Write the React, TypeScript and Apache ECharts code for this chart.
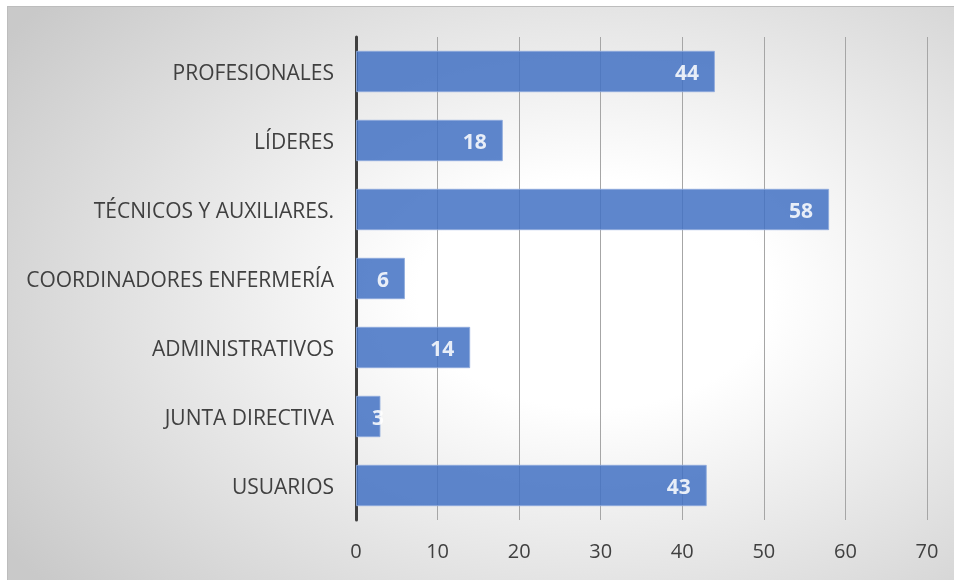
import React, { useEffect, useRef } from "react";
import * as echarts from "echarts";

const categories = [
  "PROFESIONALES",
  "LÍDERES",
  "TÉCNICOS Y AUXILIARES.",
  "COORDINADORES ENFERMERÍA",
  "ADMINISTRATIVOS",
  "JUNTA DIRECTIVA",
  "USUARIOS",
];
const values = [44, 18, 58, 6, 14, 3, 43];
const axisMin = 0;
const axisMax = 70;
const axisInterval = 10;

export default function App() {
  const ref = useRef<HTMLDivElement>(null);
  useEffect(() => {
    if (!ref.current) return;
    const chart = echarts.init(ref.current, undefined, { renderer: "svg" });
    const font = "'Open Sans', sans-serif";
    chart.setOption({
      animation: false,
      backgroundColor: "transparent",
      grid: { left: 348, right: 27, top: 30, bottom: 60, containLabel: false },
      xAxis: {
        type: "value",
        min: axisMin,
        max: axisMax,
        interval: axisInterval,
        axisLine: { show: false },
        axisTick: { show: false },
        splitLine: { show: true, lineStyle: { color: "#a6a6a6", width: 1 } },
        axisLabel: { color: "#404040", fontSize: 20, fontFamily: font, margin: 20 },
      },
      yAxis: {
        type: "category",
        inverse: true,
        data: categories,
        axisLine: { show: true, lineStyle: { color: "#404040", width: 3 } },
        axisTick: { show: false },
        axisLabel: { color: "#404040", fontSize: 21, fontFamily: font, margin: 22 },
      },
      series: [
        {
          type: "bar",
          barCategoryGap: "40%",
          data: values.map((v) =>
            v < 5
              ? { value: v, label: { position: "insideLeft", distance: 16 } }
              : v
          ),
          itemStyle: {
            color: "#4472c4",
            opacity: 0.86,
            borderColor: "#8eaadc",
            borderWidth: 1,
          },
          label: {
            show: true,
            position: "insideRight",
            distance: 16,
            color: "#ffffff",
            fontWeight: "bold",
            fontSize: 21,
            fontFamily: font,
          },
        },
      ],
    });
    return () => chart.dispose();
  }, []);
  return (
    <div
      style={{
        position: "fixed",
        left: 7,
        top: 6,
        borderTop: "1px solid #bdbdbd",
        borderLeft: "1px solid #bdbdbd",
        background:
          "radial-gradient(ellipse 75% 80% at 62% 50%, #ffffff 0%, #ffffff 25%, #c9c9c9 100%)",
      }}
    >
      <div ref={ref} style={{ width: 946, height: 573 }} />
    </div>
  );
}
